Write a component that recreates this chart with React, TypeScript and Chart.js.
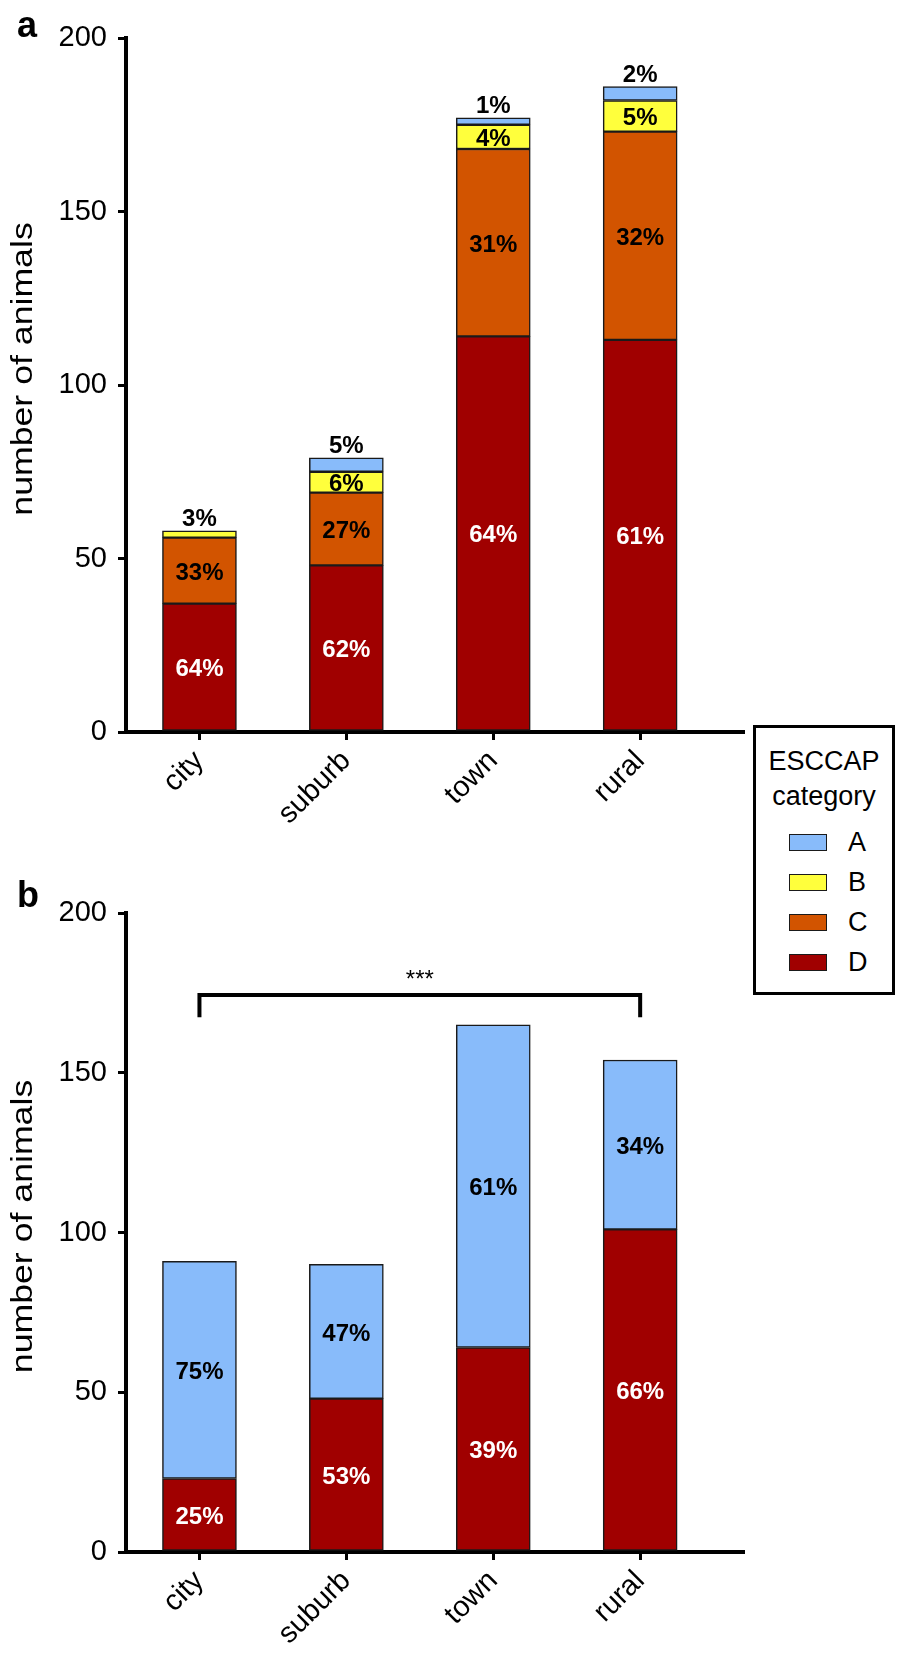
import React, { useEffect, useRef } from 'react';
import { Chart, registerables } from 'chart.js';

Chart.register(...registerables);

const FONT = '"Liberation Sans", Arial, Helvetica, sans-serif';

// ---------- data ----------
const categories = ['city', 'suburb', 'town', 'rural'];
const seriesNames = ['A', 'B', 'C', 'D'];
const seriesColors = ['#88BBFA', '#FFFF3C', '#D25400', '#A00000'];

// panel a (ESCCAP category counts)
const aValuesA = [0, 4, 2, 4];
const aValuesB = [2, 6, 7, 9];
const aValuesC = [19, 21, 54, 60];
const aValuesD = [37, 48, 114, 113];
const aLabelsA = ['', '5%', '1%', '2%'];
const aLabelsB = ['3%', '6%', '4%', '5%'];
const aLabelsC = ['33%', '27%', '31%', '32%'];
const aLabelsD = ['64%', '62%', '64%', '61%'];

// panel b
const bValuesA = [68, 42, 101, 53];
const bValuesD = [23, 48, 64, 101];
const bLabelsA = ['75%', '47%', '61%', '34%'];
const bLabelsD = ['25%', '53%', '39%', '66%'];

const yMin = 0;
const yMax = 200;
const yStep = 50;
const yAxisTitle = 'number of animals';
const significanceText = '***';
const bracketFrom = 0; // city
const bracketTo = 3; // rural
const bracketTop = 174.3;
const bracketBottom = 167.4;
const significanceY = 180;

// ---------- helpers ----------
const W = 898;
const A_TOP = 0;
const A_H = 870;
const B_TOP = 870;
const B_H = 783;

type SegLabel = { labels: string[]; color: string };

function segLabelPlugin(sets: SegLabel[]) {
  return {
    id: 'segLabels',
    afterDatasetsDraw(chart: any) {
      const ctx = chart.ctx;
      ctx.save();
      ctx.font = `bold 24px ${FONT}`;
      ctx.textAlign = 'center';
      ctx.textBaseline = 'alphabetic';
      sets.forEach((set, di) => {
        const meta = chart.getDatasetMeta(di);
        set.labels.forEach((txt, i) => {
          if (!txt) return;
          const el = meta.data[i];
          if (!el) return;
          const p = el.getProps(['x', 'y', 'base'], true);
          const h = p.base - p.y;
          if (h < 18) {
            ctx.fillStyle = '#000';
            ctx.fillText(txt, p.x, p.y - 5);
          } else {
            ctx.fillStyle = set.color;
            ctx.fillText(txt, p.x, (p.y + p.base) / 2 + 9);
          }
        });
      });
      ctx.restore();
    },
  };
}

function decorPlugin(letter: string, letterY: number, titleCenterOffset: number) {
  return {
    id: 'decor',
    afterDraw(chart: any) {
      const ctx = chart.ctx;
      const ca = chart.chartArea;
      ctx.save();
      ctx.fillStyle = '#000';
      ctx.font = `bold 36px ${FONT}`;
      ctx.textAlign = 'left';
      ctx.textBaseline = 'alphabetic';
      ctx.fillText(letter, 17, letterY);
      // y-axis title
      ctx.translate(32, (ca.top + ca.bottom) / 2 + titleCenterOffset);
      ctx.rotate(-Math.PI / 2);
      ctx.scale(1.23, 1);
      ctx.font = `29px ${FONT}`;
      ctx.textAlign = 'center';
      ctx.fillText(yAxisTitle, 0, 0);
      ctx.restore();
    },
  };
}

const bracketPlugin = {
  id: 'bracket',
  afterDraw(chart: any) {
    const ctx = chart.ctx;
    const xs = chart.scales.x;
    const ys = chart.scales.y;
    const x1 = xs.getPixelForValue(bracketFrom);
    const x2 = xs.getPixelForValue(bracketTo);
    const yt = ys.getPixelForValue(bracketTop);
    const yb = ys.getPixelForValue(bracketBottom);
    ctx.save();
    ctx.strokeStyle = '#000';
    ctx.lineWidth = 4;
    ctx.lineJoin = 'miter';
    ctx.beginPath();
    ctx.moveTo(x1, yb);
    ctx.lineTo(x1, yt);
    ctx.lineTo(x2, yt);
    ctx.lineTo(x2, yb);
    ctx.stroke();
    ctx.fillStyle = '#000';
    ctx.font = `24px ${FONT}`;
    ctx.textAlign = 'center';
    ctx.textBaseline = 'alphabetic';
    ctx.fillText(significanceText, (x1 + x2) / 2, ys.getPixelForValue(significanceY) + 10);
    ctx.restore();
  },
};

function toPoints(values: number[]) {
  return values.map((v, i) => ({ x: i, y: v === 0 ? null : v }));
}

function makeDataset(label: string, values: number[], color: string) {
  return {
    label,
    data: toPoints(values),
    backgroundColor: color,
    borderColor: '#1a1a1a',
    borderWidth: 1.5,
    borderSkipped: false,
    barThickness: 74,
  };
}

function makeOptions(axisHeight: number, padTop: number) {
  const tickFont = { family: FONT, size: 29 };
  const grid = {
    display: true,
    drawOnChartArea: false,
    drawTicks: true,
    tickLength: 8,
    color: '#000',
    lineWidth: 3,
    offset: false,
  };
  const border = { display: true, color: '#000', width: 4 };
  return {
    responsive: false,
    animation: false,
    devicePixelRatio: 1,
    layout: { padding: { top: padTop, right: 155, bottom: 0, left: 0 } },
    plugins: { legend: { display: false }, tooltip: { enabled: false } },
    scales: {
      x: {
        type: 'linear',
        min: -0.5,
        max: 3.7,
        stacked: true,
        offset: false,
        afterBuildTicks: (s: any) => {
          s.ticks = categories.map((_, i) => ({ value: i }));
        },
        afterFit: (s: any) => {
          s.height = axisHeight;
        },
        ticks: {
          autoSkip: false,
          minRotation: 45,
          maxRotation: 45,
          padding: 4,
          color: '#000',
          font: tickFont,
          callback: (v: number) => categories[v] ?? '',
        },
        grid,
        border,
      },
      y: {
        min: yMin,
        max: yMax,
        stacked: true,
        afterFit: (s: any) => {
          s.width = 126;
        },
        ticks: { stepSize: yStep, padding: 11, color: '#000', font: tickFont },
        grid,
        border,
      },
    },
  };
}

export default function App() {
  const refA = useRef<HTMLCanvasElement>(null);
  const refB = useRef<HTMLCanvasElement>(null);

  useEffect(() => {
    const chartA = new Chart(refA.current as HTMLCanvasElement, {
      type: 'bar',
      data: {
        datasets: [
          makeDataset(seriesNames[3], aValuesD, seriesColors[3]),
          makeDataset(seriesNames[2], aValuesC, seriesColors[2]),
          makeDataset(seriesNames[1], aValuesB, seriesColors[1]),
          makeDataset(seriesNames[0], aValuesA, seriesColors[0]),
        ],
      },
      options: makeOptions(A_H - 732, 38) as any,
      plugins: [
        segLabelPlugin([
          { labels: aLabelsD, color: '#fff' },
          { labels: aLabelsC, color: '#000' },
          { labels: aLabelsB, color: '#000' },
          { labels: aLabelsA, color: '#000' },
        ]),
        decorPlugin('a', 37, -16),
      ] as any,
    });
    const chartB = new Chart(refB.current as HTMLCanvasElement, {
      type: 'bar',
      data: {
        datasets: [
          makeDataset(seriesNames[3], bValuesD, seriesColors[3]),
          makeDataset(seriesNames[0], bValuesA, seriesColors[0]),
        ],
      },
      options: makeOptions(B_H - (1552 - B_TOP), 913 - B_TOP) as any,
      plugins: [
        segLabelPlugin([
          { labels: bLabelsD, color: '#fff' },
          { labels: bLabelsA, color: '#000' },
        ]),
        decorPlugin('b', 37, -6),
        bracketPlugin,
      ] as any,
    });
    return () => {
      chartA.destroy();
      chartB.destroy();
    };
  }, []);

  const legendOrder = [0, 1, 2, 3];

  return (
    <div
      style={{
        position: 'absolute',
        left: 0,
        top: 0,
        width: W,
        height: 1653,
        background: '#fff',
        overflow: 'hidden',
      }}
    >
      <canvas
        ref={refA}
        width={W}
        height={A_H}
        style={{ position: 'absolute', left: 0, top: A_TOP, width: W, height: A_H }}
      />
      <canvas
        ref={refB}
        width={W}
        height={B_H}
        style={{ position: 'absolute', left: 0, top: B_TOP, width: W, height: B_H }}
      />
      <div
        style={{
          position: 'absolute',
          left: 753,
          top: 725,
          width: 142,
          height: 270,
          boxSizing: 'border-box',
          border: '3px solid #000',
          background: '#fff',
          fontFamily: FONT,
          color: '#000',
        }}
      >
        <div
          style={{
            position: 'absolute',
            left: 0,
            right: 0,
            top: 16,
            textAlign: 'center',
            fontSize: 27,
            lineHeight: '35px',
          }}
        >
          ESCCAP
          <br />
          category
        </div>
        {legendOrder.map((si, k) => (
          <div
            key={seriesNames[si]}
            style={{
              position: 'absolute',
              left: 33,
              top: 114 + k * 40 - 17,
              height: 34,
              display: 'flex',
              alignItems: 'center',
            }}
          >
            <div
              style={{
                width: 38,
                height: 17,
                boxSizing: 'border-box',
                background: seriesColors[si],
                border: '1.5px solid #1a1a1a',
              }}
            />
            <span style={{ marginLeft: 21, fontSize: 27, lineHeight: '34px' }}>
              {seriesNames[si]}
            </span>
          </div>
        ))}
      </div>
    </div>
  );
}
